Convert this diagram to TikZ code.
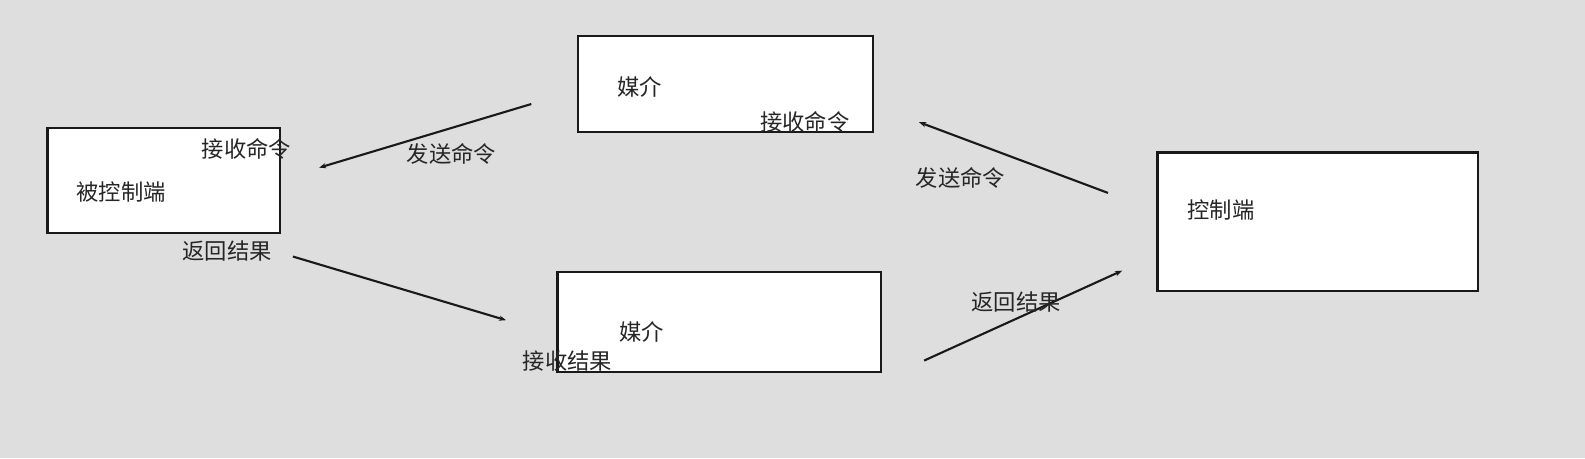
\documentclass[tikz,border=0pt]{standalone}
\usepackage{fontspec}
\setmainfont{Noto Sans CJK SC}
\usetikzlibrary{arrows.meta}
\begin{document}
\begin{tikzpicture}[x=0.0202cm,y=-0.0202cm,
  box/.style={draw=black!90,line width=1.2pt,fill=white},
  lbl/.style={font=\fontsize{12.7}{14}\selectfont,text=black!85,inner sep=0pt},
  arr/.style={line width=1.2pt,draw=black!90,-{Stealth[length=4pt,width=3pt]}}]
\fill[fill=black!13] (0,0) rectangle (1569.3,453.5);
\draw[box] (47,127) rectangle (277,231);
\draw[box] (572,36) rectangle (864,131);
\draw[box] (552,269) rectangle (872,368);
\draw[box] (1146,151) rectangle (1463,288);
\coordinate (a1) at (526,103); \coordinate (a2) at (316,166);
\coordinate (b1) at (1097,191); \coordinate (b2) at (910,121);
\coordinate (c1) at (290,254); \coordinate (c2) at (501,317);
\coordinate (d1) at (915,357); \coordinate (d2) at (1111,268);
\draw[arr] (a1) -- (a2);
\draw[arr] (b1) -- (b2);
\draw[arr] (c1) -- (c2);
\draw[arr] (d1) -- (d2);
\node[lbl] (t1) at (244,147) {接收命令};
\node[lbl] (t2) at (120,190) {被控制端};
\node[lbl] (t3) at (447,152) {发送命令};
\node[lbl] (t4) at (633,86) {媒介};
\node[lbl] (t5) at (797,121) {接收命令};
\node[lbl] (t6) at (951,176) {发送命令};
\node[lbl] (t7) at (1209,208) {控制端};
\node[lbl] (t8) at (225,249) {返回结果};
\node[lbl] (t9) at (635,329) {媒介};
\node[lbl] (t10) at (562,357) {接收结果};
\node[lbl] (t11) at (1006,299) {返回结果};
\pgfresetboundingbox
\useasboundingbox (0,0) rectangle (1569.3,453.5);
\end{tikzpicture}
\end{document}
